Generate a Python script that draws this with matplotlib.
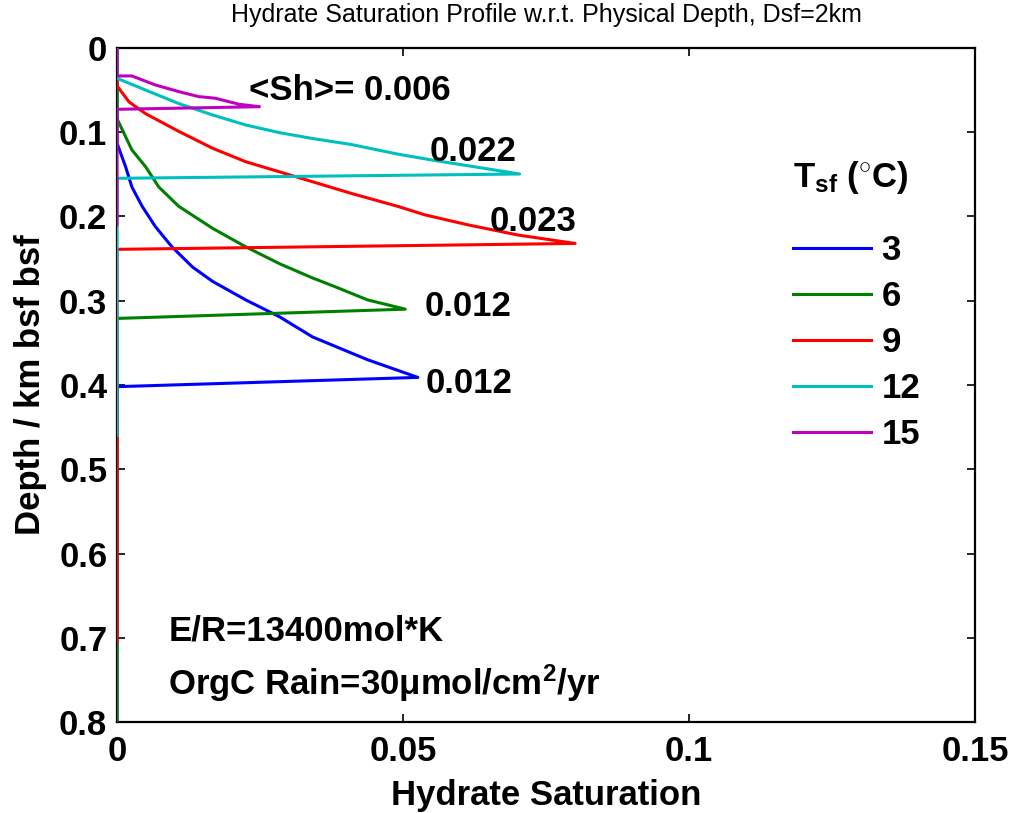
import matplotlib
matplotlib.use("Agg")
import matplotlib.pyplot as plt

plt.rcParams["font.family"] = ["Liberation Sans", "DejaVu Sans"]
plt.rcParams["mathtext.fontset"] = "custom"
plt.rcParams["mathtext.rm"] = "Liberation Sans:bold"
plt.rcParams["mathtext.it"] = "Liberation Sans:bold"
plt.rcParams["mathtext.bf"] = "Liberation Sans:bold"

# Hydrate saturation profiles (Sh vs depth in km bsf) for each seafloor temperature
temps = ["3", "6", "9", "12", "15"]
colors = ["#0000ff", "#008000", "#ff0000", "#00bfbf", "#bf00bf"]

depth_3 = [0.0, 0.113, 0.141, 0.165, 0.188, 0.212, 0.236, 0.260, 0.277, 0.299,
           0.319, 0.343, 0.370, 0.391, 0.402, 1.20]
sh_3 = [0.0, 0.0, 0.0015, 0.0026, 0.0044, 0.0067, 0.0096, 0.0132, 0.0167, 0.0225,
        0.0284, 0.0342, 0.0438, 0.0526, 0.0, 0.0]

depth_6 = [0.0, 0.084, 0.121, 0.141, 0.165, 0.188, 0.214, 0.236, 0.256, 0.273,
           0.283, 0.299, 0.310, 0.321, 0.96]
sh_6 = [0.0, 0.0, 0.0026, 0.0050, 0.0073, 0.0108, 0.0167, 0.0225, 0.0284, 0.0342,
        0.0380, 0.0438, 0.0504, 0.0, 0.0]

depth_9 = [0.0, 0.045, 0.064, 0.078, 0.099, 0.119, 0.135, 0.147, 0.1545, 0.1725,
           0.188, 0.198, 0.210, 0.222, 0.232, 0.239, 0.705]
sh_9 = [0.0, 0.0, 0.0021, 0.0050, 0.0108, 0.0167, 0.0225, 0.0284, 0.0321, 0.0409,
        0.0491, 0.0538, 0.0614, 0.0701, 0.0801, 0.0, 0.0]

depth_12 = [0.0, 0.036, 0.050, 0.066, 0.0795, 0.0914, 0.1005, 0.1075, 0.1145,
            0.126, 0.1335, 0.141, 0.1496, 0.1547, 0.46]
sh_12 = [0.0, 0.0, 0.0050, 0.0108, 0.0167, 0.0225, 0.0284, 0.0342, 0.0409,
         0.0491, 0.0555, 0.0625, 0.0704, 0.0, 0.0]

depth_15 = [0.0, 0.0332, 0.0332, 0.0439, 0.0518, 0.0578, 0.0585, 0.0597, 0.0669,
            0.0697, 0.0728, 0.21]
sh_15 = [0.0, 0.0, 0.0026, 0.0067, 0.0108, 0.0143, 0.0155, 0.0172, 0.0214,
         0.0249, 0.0, 0.0]

depths = [depth_3, depth_6, depth_9, depth_12, depth_15]
sats = [sh_3, sh_6, sh_9, sh_12, sh_15]

# Mean saturation annotations: text, x, depth of baseline
ann_text = ["<Sh>= 0.006", "0.022", "0.023", "0.012", "0.012"]
ann_x = [0.0230, 0.0546, 0.0651, 0.0537, 0.0540]
ann_d = [0.0617, 0.134, 0.217, 0.318, 0.4095]

xticks = [0, 0.05, 0.1, 0.15]
xtick_labels = ["0", "0.05", "0.1", "0.15"]
yticks = [0, 0.1, 0.2, 0.3, 0.4, 0.5, 0.6, 0.7, 0.8]
ytick_labels = ["0", "0.1", "0.2", "0.3", "0.4", "0.5", "0.6", "0.7", "0.8"]

FS = 25

fig = plt.figure(figsize=(10.14, 8.13), dpi=100)
ax = fig.add_axes([0.1154, 0.1119, 0.9615 - 0.1154, 0.941 - 0.1119])

for d, s, c, t in zip(depths, sats, colors, temps):
    ax.plot(s, d, color=c, lw=2.2, label=t, zorder=3)

ax.set_xlim(0, 0.15)
ax.set_ylim(0.8, 0)
ax.set_xticks(xticks)
ax.set_xticklabels(xtick_labels)
ax.set_yticks(yticks)
ax.set_yticklabels(ytick_labels)
ax.tick_params(direction="in", top=True, right=True, length=6, width=1.2,
               labelsize=FS)
ax.tick_params(axis="x", pad=9)
ax.tick_params(axis="y", pad=7)
for lab in ax.get_xticklabels() + ax.get_yticklabels():
    lab.set_fontweight("bold")
for sp in ax.spines.values():
    sp.set_linewidth(1.6)

ax.set_xlabel("Hydrate Saturation", fontsize=FS, fontweight="bold", labelpad=8)
ax.set_ylabel("Depth / km bsf bsf", fontsize=FS, fontweight="bold", labelpad=9)
ax.set_title("Hydrate Saturation Profile w.r.t. Physical Depth, Dsf=2km",
             fontsize=18, pad=19)

for t, x, d in zip(ann_text, ann_x, ann_d):
    ax.text(x, d, t, fontsize=FS, fontweight="bold", ha="left", va="baseline")

ax.text(0.00895, 0.7027, "E/R=13400mol*K", fontsize=FS, fontweight="bold",
        ha="left", va="baseline")
ax.text(0.00895, 0.768, "OrgC Rain=30\u03bcmol/cm$^{2}$/yr", fontsize=FS,
        fontweight="bold", ha="left", va="baseline")

# Legend title drawn as its own text so the gap above the entries can be set freely
ax.text(0.788, 0.7938, "T$_{sf}$ ($^{\\circ}$C)", transform=ax.transAxes,
        fontsize=FS, fontweight="bold", ha="left", va="baseline")

leg = ax.legend(loc="upper left", bbox_to_anchor=(0.788, 0.7245), frameon=False,
                fontsize=FS, handlelength=2.25, handletextpad=0.3,
                labelspacing=0.375, borderaxespad=0, borderpad=0)
for txt in leg.get_texts():
    txt.set_fontweight("bold")
for h in leg.get_lines():
    h.set_linewidth(2.2)

fig.savefig("out.png", dpi=100)
